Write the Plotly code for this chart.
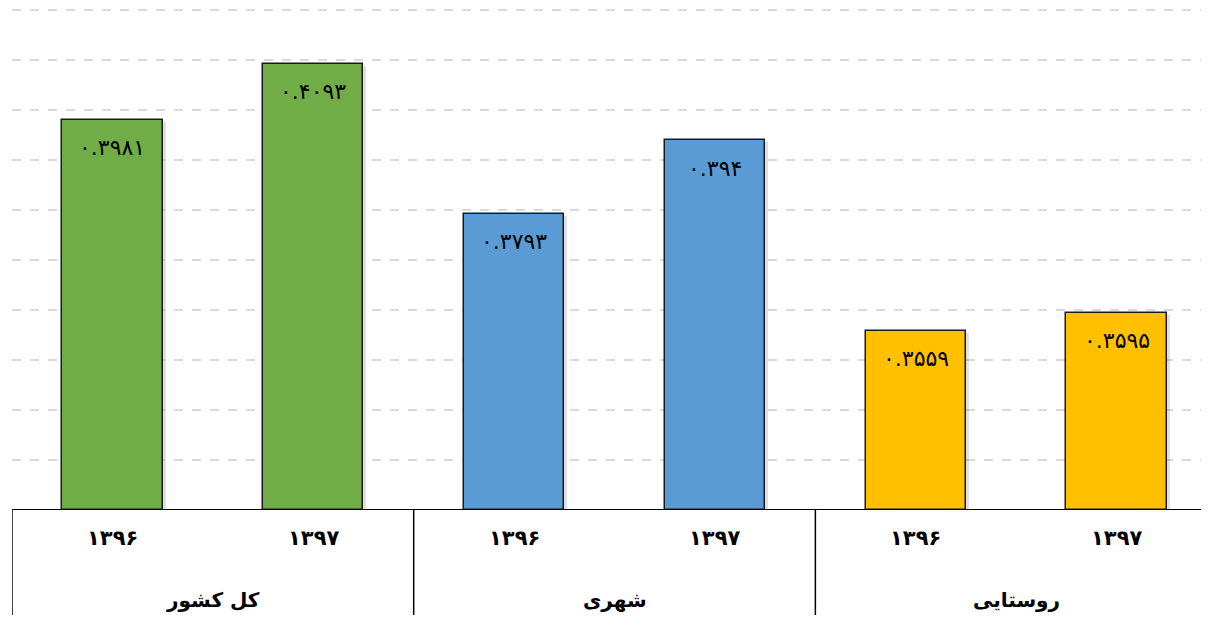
import plotly.graph_objects as go

groups = ["کل کشور", "شهری", "روستایی"]
years = ["۱۳۹۶", "۱۳۹۷"]
values = [0.3981, 0.4093, 0.3793, 0.394, 0.3559, 0.3595]
labels = ["۰.۳۹۸۱", "۰.۴۰۹۳", "۰.۳۷۹۳", "۰.۳۹۴", "۰.۳۵۵۹", "۰.۳۵۹۵"]
colors = ["#70AD47", "#70AD47", "#5B9BD5", "#5B9BD5", "#FFC000", "#FFC000"]

FONT = "DejaVu Sans"
x = list(range(len(values)))
base = 0.32

fig = go.Figure()
# soft shadow behind bars
fig.add_trace(go.Bar(
    x=x, y=[v - base - 0.0004 for v in values], base=base,
    width=0.5, offset=-0.235,
    marker=dict(color="rgba(0,0,0,0.12)", line=dict(width=0)),
    hoverinfo="skip",
))
fig.add_trace(go.Bar(
    x=x, y=[v - base for v in values], base=base,
    width=0.5, offset=-0.25,
    marker=dict(color=colors, line=dict(color="#1a1a1a", width=1.5)),
    hoverinfo="skip",
))

annotations = []
shapes = []
for xi, (v, lab) in enumerate(zip(values, labels)):
    annotations.append(dict(x=xi, y=v, xref="x", yref="y", text=lab,
                            showarrow=False, yshift=-28, yanchor="middle",
                            font=dict(family=FONT, size=22, color="black")))
for gi, g in enumerate(groups):
    for yi, yr in enumerate(years):
        annotations.append(dict(x=gi * 2 + yi, y=0, xref="x", yref="paper",
                                text="<b>%s</b>" % yr, showarrow=False,
                                yshift=-28, yanchor="middle",
                                font=dict(family=FONT, size=21, color="black")))
    annotations.append(dict(x=gi * 2 + 0.5, y=0, xref="x", yref="paper",
                            text="<b>%s</b>" % g, showarrow=False,
                            yshift=-90, yanchor="middle",
                            font=dict(family=FONT, size=20, color="black")))
    shapes.append(dict(type="line", xref="x", yref="paper",
                       x0=gi * 2 - 0.5, x1=gi * 2 - 0.5, y0=0, y1=-0.3,
                       line=dict(color="black", width=1.5)))

fig.update_layout(
    width=1201, height=607,
    margin=dict(l=4, r=0, t=0, b=105),
    paper_bgcolor="white", plot_bgcolor="white",
    showlegend=False, bargap=0, barmode="overlay",
    xaxis=dict(range=[-0.5, 5.46], showticklabels=False, showgrid=False,
               zeroline=False, showline=False, fixedrange=True),
    yaxis=dict(range=[0.32, 0.4204], dtick=0.01, showticklabels=False,
               showgrid=True, gridcolor="#D9D9D9", griddash="dash", gridwidth=1.5,
               zeroline=False, showline=False, fixedrange=True),
    annotations=annotations,
    shapes=shapes + [dict(type="line", xref="paper", yref="y", x0=0, x1=1,
                          y0=0.32, y1=0.32, line=dict(color="black", width=2))],
)

fig.write_html("out.html")
